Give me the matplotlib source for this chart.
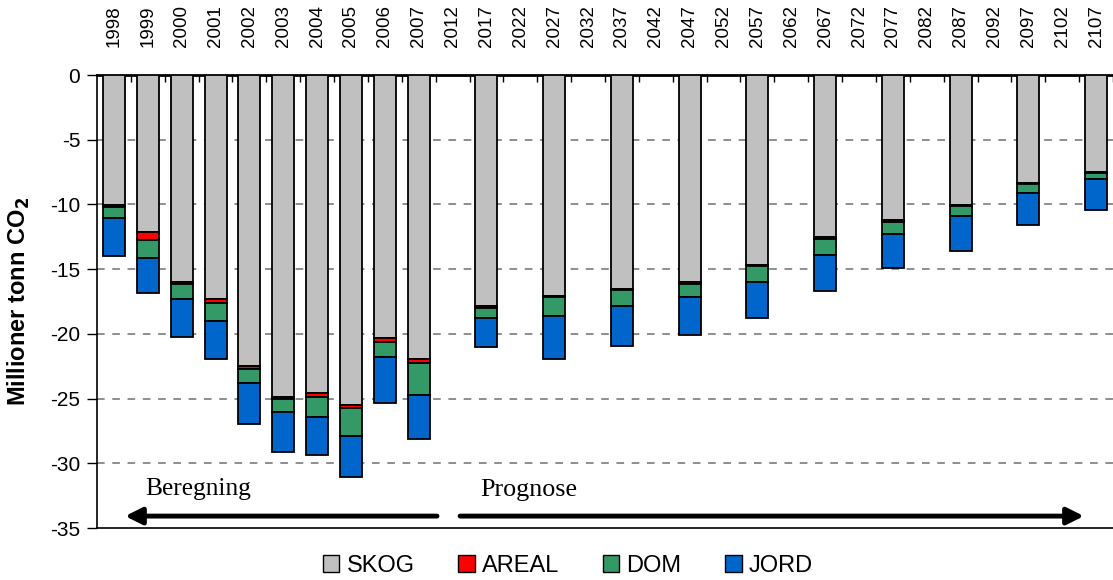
import numpy as np
import matplotlib
matplotlib.use("Agg")
import matplotlib.pyplot as plt
from matplotlib.patches import Patch

plt.rcParams['font.family'] = ['Liberation Sans', 'DejaVu Sans']

# Category labels on the x axis (every category, including empty ones)
categories = [str(y) for y in range(1998, 2008)] + [str(y) for y in range(2012, 2108, 5)]

# Years that carry a bar
bar_years = [str(y) for y in range(1998, 2008)] + [str(y) for y in range(2017, 2108, 10)]

# Component values (million tonnes CO2, negative = uptake)
skog = [-10.05, -12.16, -16.0, -17.3, -22.49, -24.86, -24.6, -25.5, -20.35, -21.95,
        -17.85, -17.05, -16.5, -16.0, -14.68, -12.55, -11.22, -10.03, -8.32, -7.5]
areal = [-0.15, -0.6, -0.12, -0.28, -0.26, -0.14, -0.25, -0.25, -0.28, -0.28,
         -0.12, -0.1, -0.12, -0.12, -0.1, -0.12, -0.12, -0.12, -0.1, -0.1]
dom = [-0.87, -1.35, -1.19, -1.42, -1.05, -1.04, -1.6, -2.15, -1.19, -2.5,
       -0.78, -1.5, -1.23, -1.06, -1.22, -1.22, -0.92, -0.77, -0.67, -0.46]
jord = [-2.93, -2.77, -2.91, -2.95, -3.17, -3.06, -2.92, -3.19, -3.55, -3.42,
        -2.29, -3.3, -3.07, -2.94, -2.78, -2.78, -2.68, -2.71, -2.53, -2.37]

series_names = ['SKOG', 'AREAL', 'DOM', 'JORD']
series_colors = ['#C0C0C0', '#FF0000', '#339966', '#0066CC']
y_ticks = [0, -5, -10, -15, -20, -25, -30, -35]

W, H = 1113, 580
fig = plt.figure(figsize=(W / 100, H / 100), dpi=100)
ax = fig.add_axes([97 / W, 52 / H, 1016 / W, 453 / H])

pos = np.array([categories.index(y) for y in bar_years])
bottom = np.zeros(len(pos))
for vals, name, col in zip([skog, areal, dom, jord], series_names, series_colors):
    v = np.array(vals)
    ax.bar(pos, v, bottom=bottom, width=0.65, color=col, edgecolor='black',
           linewidth=1.3, label=name, zorder=3)
    bottom = bottom + v

ax.set_xlim(-0.5, len(categories) - 0.5)
ax.set_ylim(-35, 0)

# x axis on top
ax.xaxis.tick_top()
ax.set_xticks(range(len(categories)))
ax.set_xticklabels(categories, rotation=90, fontsize=13.5)
ax.tick_params(axis='x', which='major', length=0, pad=20)
ax.set_xticks(np.arange(len(categories)) + 0.5, minor=True)
ax.tick_params(axis='x', which='minor', top=True, bottom=False, direction='in', length=5, width=1)

ax.set_yticks(y_ticks)
ax.set_yticklabels([str(t) for t in y_ticks], fontsize=15)
ax.tick_params(axis='y', direction='out', length=7, width=1, pad=5)

for t in y_ticks[1:-1]:
    ax.axhline(t, color='#707070', linestyle=(0, (5, 5)), linewidth=1.1, zorder=1)

ax.spines['right'].set_visible(False)
ax.spines['top'].set_linewidth(2)
ax.spines['left'].set_linewidth(1.2)
ax.spines['bottom'].set_linewidth(1.2)

ax.set_ylabel('Millioner tonn CO$_\\mathbf{2}$', fontsize=17, fontweight='bold')
ax.yaxis.set_label_coords(-0.064, 0.5)

# Arrows and annotations
ay = -34.08
ax.annotate('', xy=(0.33, ay), xytext=(9.54, ay),
            arrowprops=dict(arrowstyle='-|>,head_length=1.0,head_width=0.5', lw=3.5,
                            color='black', shrinkA=0, shrinkB=0), zorder=5)
ax.annotate('', xy=(28.64, ay), xytext=(10.22, ay),
            arrowprops=dict(arrowstyle='-|>,head_length=1.0,head_width=0.5', lw=3.5,
                            color='black', shrinkA=0, shrinkB=0), zorder=5)
ax.text(0.92, -32.0, 'Beregning', fontsize=18.3, family='Liberation Serif', va='center', ha='left')
ax.text(10.8, -32.1, 'Prognose', fontsize=18.8, family='Liberation Serif', va='center', ha='left')

handles = [Patch(facecolor=c, edgecolor='black', linewidth=1) for c in series_colors]
fig.legend(handles, series_names, loc='center', bbox_to_anchor=(568 / W, 1 - 566 / H),
           ncol=4, frameon=False, fontsize=17, handlelength=0.7, handleheight=0.7,
           handletextpad=0.3, columnspacing=1.85)

fig.savefig('out.png', dpi=100)
